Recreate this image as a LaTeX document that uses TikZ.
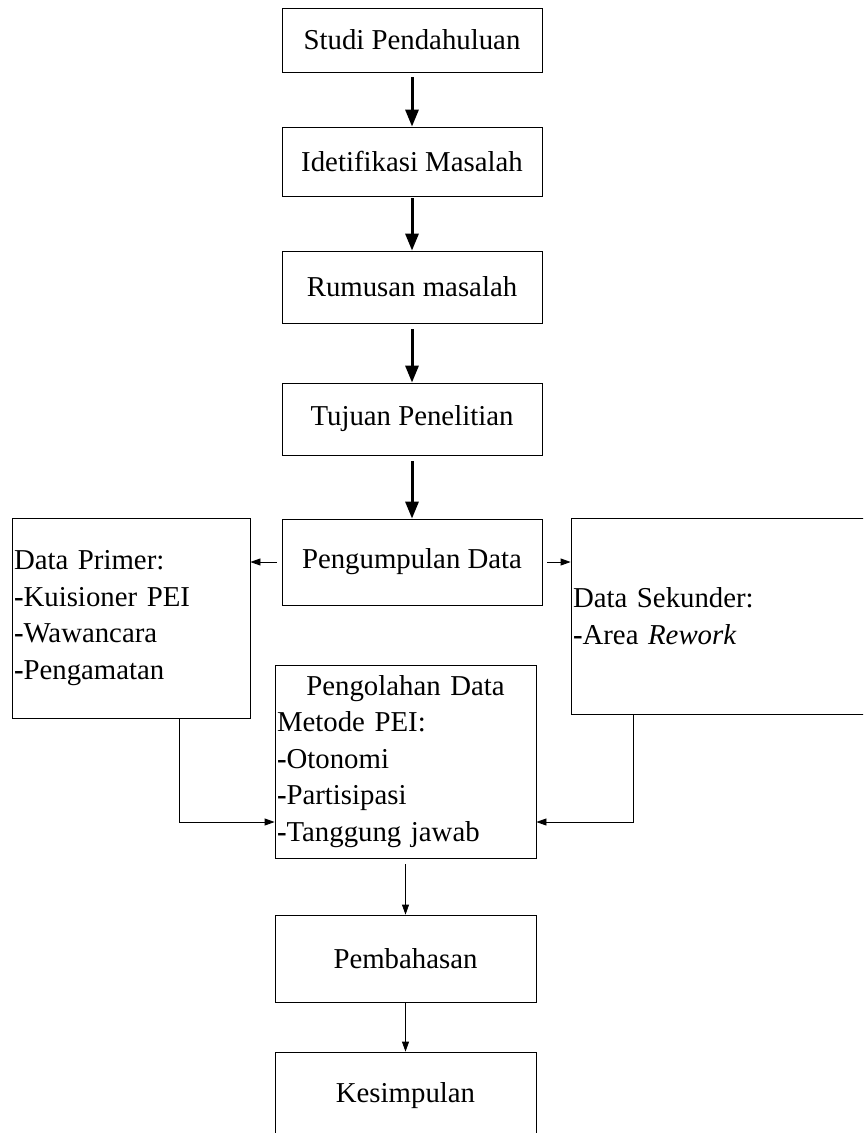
\documentclass[tikz,border=0pt]{standalone}
\usepackage{fontspec}
\setmainfont{Liberation Serif}
\usetikzlibrary{arrows.meta}
\tikzset{
  box/.style={draw, rectangle, line width=0.8pt, inner sep=0pt,
    font=\fontsize{28.8}{36.5}\selectfont},
  listbox/.style={box, inner xsep=2pt, align=left},
  bigarrow/.style={line width=3pt, -{Triangle[length=17pt,width=13pt]}},
  smallarrow/.style={line width=0.8pt, -{Triangle[length=10pt,width=7pt]}}
}
\begin{document}
\begin{tikzpicture}
    [x=1pt,y=-1pt]
    \useasboundingbox (0,0) rectangle (863,1133);
    \clip (0,0) rectangle (863,1133);
    %main column
    \node[box, minimum width=260pt, minimum height=64pt] (studi) at (412,40) {Studi Pendahuluan};
    \node[box, minimum width=260pt, minimum height=69pt] (idet) at (412,161.5) {Idetifikasi Masalah};
    \node[box, minimum width=260pt, minimum height=72pt] (rumus) at (412,287) {Rumusan masalah};
    \node[box, minimum width=260pt, minimum height=72pt] (tujuan) at (412,419) {Tujuan Penelitian};
    \node[box, minimum width=260pt, minimum height=86pt] (kumpul) at (412,562) {Pengumpulan Data};
    %data sources
    \node[listbox, minimum width=238pt, minimum height=200pt, text width=234pt] (primer) at (131,618)
      {Data Primer:\\\textbf{-}Kuisioner PEI\\\textbf{-}Wawancara\\\textbf{-}Pengamatan};
    \node[listbox, minimum width=309pt, minimum height=196pt, text width=305pt] (sekunder) at (725.5,616)
      {Data Sekunder:\\\textbf{-}Area \textit{Rework}};
    %processing and results
    \node[listbox, minimum width=261pt, minimum height=193pt, text width=257pt] (olah) at (405.5,761.5)
      {{\centering Pengolahan Data\par}Metode PEI:\\\textbf{-}Otonomi\\\textbf{-}Partisipasi\\\textbf{-}Tanggung jawab};
    \node[box, minimum width=261pt, minimum height=87pt] (bahas) at (405.5,958.5) {Pembahasan};
    \node[box, minimum width=261pt, minimum height=87pt] (simpul) at (405.5,1095.5) {Kesimpulan};
    %arrows
    \draw[bigarrow, shorten <=5pt] (studi) -- (idet);
    \draw[bigarrow, shorten <=2pt] (idet) -- (rumus);
    \draw[bigarrow, shorten <=6pt] (rumus) -- (tujuan);
    \draw[bigarrow, shorten <=6pt] (tujuan) -- (kumpul);
    \draw[smallarrow, shorten <=5pt] (kumpul.west) -- (kumpul.west -| primer.east);
    \draw[smallarrow, shorten <=5pt] (kumpul.east) -- (kumpul.east -| sekunder.west);
    \draw[smallarrow] ([xshift=48pt]primer.south) |- ([yshift=-60.5pt]olah.west);
    \draw[smallarrow] ([xshift=-92.5pt]sekunder.south) |- ([yshift=-60.5pt]olah.east);
    \draw[smallarrow, shorten <=6pt] (olah) -- (bahas);
    \draw[smallarrow] (bahas) -- (simpul);
\end{tikzpicture}
\end{document}
